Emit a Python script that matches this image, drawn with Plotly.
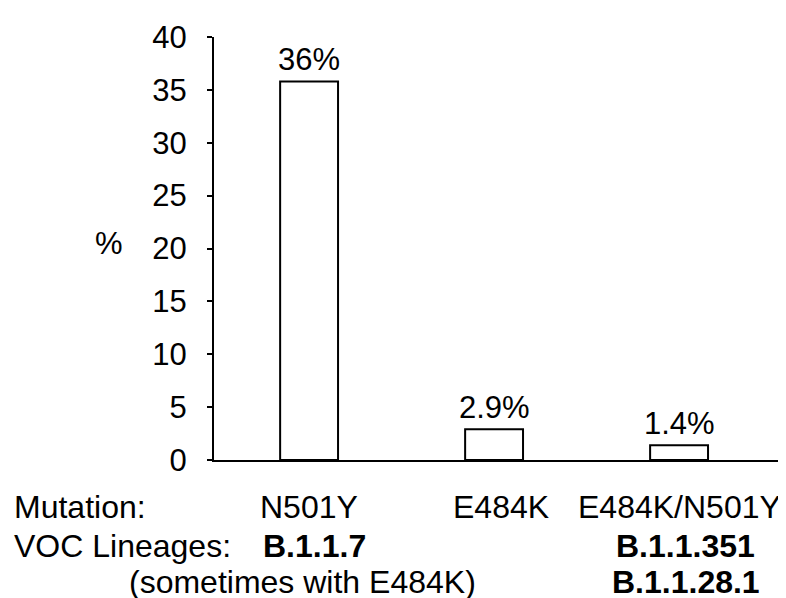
import plotly.graph_objects as go

# Data
mutations = ["N501Y", "E484K", "E484K/N501Y"]
values = [35.8, 2.9, 1.4]
value_labels = ["36%", "2.9%", "1.4%"]
lineages_row1 = ["B.1.1.7", "", "B.1.1.351"]
lineages_row2 = ["(sometimes with E484K)", "", "B.1.1.28.1"]
y_ticks = [0, 5, 10, 15, 20, 25, 30, 35, 40]

OFF = 8  # page body margin of the browser
W, H = 786 - OFF, 598 - OFF
PLOT_L, PLOT_T, PLOT_B = 214, 37, 460  # in screen pixels
L = PLOT_L - OFF
T = PLOT_T - OFF
B = H - (PLOT_B - OFF)
R = 0
PW, PH = W - L - R, H - T - B
FONT = "Liberation Sans, Arial, sans-serif"
FS = 31
FS2 = 32

def px(xp):
    return (xp - PLOT_L) / PW

def py(yp):
    return (PLOT_B - yp) / PH

xs = list(range(len(mutations)))

fig = go.Figure()
fig.add_trace(go.Bar(
    x=xs, y=values, width=0.313,
    marker=dict(color="white", line=dict(color="black", width=2)),
    hoverinfo="skip",
))

ann = []
for i, (v, lab) in enumerate(zip(values, value_labels)):
    ann.append(dict(x=i, y=v, xref="x", yref="y", text=lab, showarrow=False,
                    yanchor="bottom", yshift=2, font=dict(size=FS, family=FONT, color="black")))

def txt(text, xp, yp, xanchor="left", bold=False, size=FS2):
    t = f"<b>{text}</b>" if bold else text
    ann.append(dict(x=px(xp), y=py(yp), xref="paper", yref="paper", text=t, showarrow=False,
                    xanchor=xanchor, yanchor="middle",
                    font=dict(size=size, family=FONT, color="black")))

# row y positions (screen pixels)
r1, r2, r3 = 507, 546, 582
txt("Mutation:", 12, r1)
txt("VOC Lineages:", 12, r2)
for i, m in enumerate(mutations):
    ann.append(dict(x=i, y=py(r1), xref="x", yref="paper", text=m, showarrow=False,
                    xanchor="center", yanchor="middle", xshift=(7 if i == 1 else 0),
                    font=dict(size=FS2, family=FONT, color="black")))
txt(lineages_row1[0], 261, r2, bold=True)
txt(lineages_row1[2], 614, r2, bold=True)
txt(lineages_row2[0], 127, r3)
txt(lineages_row2[2], 610, r3, bold=True)
txt("%", 109, 243, xanchor="center", size=FS)

fig.update_layout(
    width=W, height=H,
    margin=dict(l=L, r=R, t=T, b=B, pad=0),
    plot_bgcolor="white", paper_bgcolor="white",
    showlegend=False,
    annotations=ann,
    font=dict(family=FONT, size=FS, color="black"),
)
fig.update_xaxes(range=[-0.514, 2.578], showticklabels=False, ticks="",
                 showline=True, linecolor="black", linewidth=2, showgrid=False,
                 zeroline=False)
fig.update_yaxes(range=[0, 40], tickvals=y_ticks, ticks="outside", ticklen=5,
                 tickwidth=2, tickcolor="black", showline=True, linecolor="black",
                 linewidth=2, showgrid=False, zeroline=False,
                 tickfont=dict(size=FS, family=FONT, color="black"),
                 ticklabelstandoff=14)

fig.write_html("out.html")
